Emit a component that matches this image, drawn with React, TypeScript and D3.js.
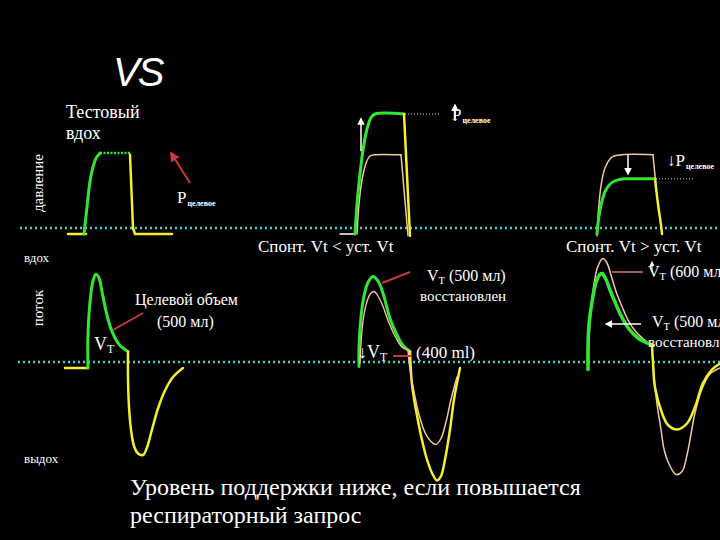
import { useRef, useEffect } from 'react';
import * as d3 from 'd3';

// time in s (panel layout), pressure in cmH2O above PEEP, flow in L/min
type Pt = [number, number];

// --- pressure, panel 1 (test breath)
const p1Base: Pt[] = [[0.68, 0], [0.86, 0]];
const p1Rise: Pt[] = [[0.84, 0], [0.86, 3], [0.88, 6], [0.90, 8.8], [0.93, 11.2], [0.96, 12.6], [1.00, 13.5]];
const p1Plateau: Pt[] = [[1.00, 13.5], [1.30, 13.5]];
const p1Fall: Pt[] = [[1.30, 13.2], [1.33, 1], [1.35, 0], [1.72, 0]];

// --- pressure, panel 2 (spont Vt < set Vt)
const p2Base: Pt[] = [[3.40, 0], [3.55, 0]];
const p2Green: Pt[] = [[3.55, 0], [3.57, 5], [3.60, 10], [3.63, 14], [3.67, 17.5], [3.71, 19.4], [3.75, 20], [4.04, 20]];
const p2Peach: Pt[] = [[3.57, 0], [3.59, 5], [3.62, 9], [3.66, 11.8], [3.70, 13], [3.74, 13.2], [4.01, 13.2]];
const p2PeachFall: Pt[] = [[4.01, 13.2], [4.08, -0.3]];
const p2Fall: Pt[] = [[4.04, 20], [4.10, -0.3]];

// --- pressure, panel 3 (spont Vt > set Vt)
const p3Peach: Pt[] = [[5.97, -0.3], [5.985, 4], [6.01, 8], [6.05, 11], [6.12, 12.8], [6.22, 13.2], [6.53, 13.2]];
const p3PeachFall: Pt[] = [[6.53, 13.2], [6.56, 8]];
const p3Green: Pt[] = [[5.97, 0], [5.99, 3], [6.02, 5.5], [6.06, 7.4], [6.12, 8.6], [6.20, 9.1], [6.28, 9.2], [6.55, 9.2]];
const p3Fall: Pt[] = [[6.55, 9.2], [6.58, 5], [6.61, 1.5], [6.62, 0]];

// --- flow, panel 1
const f1Base: Pt[] = [[0.65, -4], [0.88, -4]];
const f1Insp: Pt[] = [[0.88, -4], [0.88, 18], [0.90, 40], [0.93, 54], [0.96, 58.5], [0.99, 56], [1.02, 47], [1.06, 34], [1.10, 24], [1.15, 16], [1.20, 11], [1.28, 7]];
const f1Exp: Pt[] = [[1.28, 7], [1.28, -10], [1.29, -30], [1.31, -45], [1.34, -56], [1.38, -61], [1.43, -62], [1.47, -57], [1.52, -45], [1.58, -31], [1.65, -19], [1.73, -10], [1.83, -4]];

// --- flow, panel 2
const f2Insp: Pt[] = [[3.59, -3], [3.59, 10], [3.61, 30], [3.64, 44], [3.68, 53], [3.73, 57], [3.78, 54], [3.83, 46], [3.90, 29], [3.97, 18], [4.03, 11], [4.10, 7]];
const f2InspPeach: Pt[] = [[3.60, -1], [3.61, 12], [3.63, 27], [3.66, 38], [3.70, 45], [3.74, 47], [3.78, 44], [3.83, 37], [3.89, 26], [3.96, 16], [4.02, 10], [4.08, 8]];
const f2Exp: Pt[] = [[4.10, 7], [4.12, -15], [4.16, -32], [4.22, -52], [4.27, -65], [4.32, -74], [4.37, -79], [4.41, -76], [4.45, -65], [4.50, -45], [4.54, -25], [4.60, -4]];
const f2ExpPeach: Pt[] = [[4.08, 8], [4.10, -5], [4.14, -20], [4.19, -35], [4.25, -47], [4.31, -53], [4.36, -55], [4.41, -51], [4.46, -40], [4.51, -25], [4.57, -10]];

// --- flow, panel 3
const f3InspPeach: Pt[] = [[5.885, -3], [5.89, 15], [5.91, 35], [5.94, 52], [5.98, 64], [6.03, 69], [6.07, 66], [6.11, 58], [6.16, 47], [6.22, 37], [6.28, 28], [6.36, 20], [6.44, 15], [6.52, 10]];
const f3Insp: Pt[] = [[5.88, -5], [5.88, 10], [5.89, 25], [5.92, 40], [5.96, 53], [6.00, 58.5], [6.02, 59], [6.06, 55], [6.10, 48], [6.15, 40], [6.21, 31], [6.29, 22], [6.38, 16], [6.46, 13], [6.53, 11]];
const f3Exp: Pt[] = [[6.52, 11], [6.53, 0], [6.55, -17], [6.62, -34], [6.68, -42], [6.77, -45], [6.87, -41], [6.95, -30], [7.03, -14], [7.12, -5], [7.20, -1]];
const f3ExpPeach: Pt[] = [[6.52, 9], [6.54, -10], [6.57, -28], [6.61, -45], [6.64, -58], [6.69, -68], [6.76, -75], [6.82, -73], [6.87, -62], [6.91, -48], [6.95, -34], [7.02, -18], [7.10, -8], [7.20, -4]];

const GREEN = '#33e633';
const YELLOW = '#f4f02c';
const PEACH = '#f3c8a0';
const CYAN = '#52cccc';
const RED = '#c83a3a';
const SERIF = "'Liberation Serif', 'DejaVu Serif', serif";

export default function App() {
  const ref = useRef<SVGSVGElement>(null);

  useEffect(() => {
    const svg = d3.select(ref.current);
    svg.selectAll('*').remove();

    const x = d3.scaleLinear().domain([0, 7.2]).range([0, 720]);
    const yP = d3.scaleLinear().domain([0, 20]).range([234, 114]);
    const yF = d3.scaleLinear().domain([-80, 70]).range([482, 257]);

    const defs = svg.append('defs');
    const marker = (id: string, color: string) => {
      defs.append('marker').attr('id', id)
        .attr('viewBox', '0 0 10 10').attr('refX', 8).attr('refY', 5)
        .attr('markerWidth', 5).attr('markerHeight', 5).attr('orient', 'auto')
        .append('path').attr('d', 'M0,0 L10,5 L0,10 z').attr('fill', color);
    };
    marker('aw', '#fff');
    marker('ar', RED);

    svg.append('rect').attr('width', 720).attr('height', 540).attr('fill', '#000');

    // dotted zero lines
    svg.append('line')
      .attr('x1', x(0.2)).attr('x2', x(7.2)).attr('y1', yP(1)).attr('y2', yP(1))
      .attr('stroke', CYAN).attr('stroke-width', 2.5).attr('stroke-dasharray', '2,3');
    svg.append('line')
      .attr('x1', x(0.18)).attr('x2', x(7.2)).attr('y1', yF(0)).attr('y2', yF(0))
      .attr('stroke', CYAN).attr('stroke-width', 2.5).attr('stroke-dasharray', '2,3');

    const curve = d3.curveCatmullRom.alpha(0.5);
    const draw = (data: Pt[], y: d3.ScaleLinear<number, number>, color: string, w: number, smooth = true, dash?: string) => {
      const gen = d3.line<Pt>().x(d => x(d[0])).y(d => y(d[1]))
        .curve(smooth ? curve : d3.curveLinear);
      const p = svg.append('path').attr('d', gen(data))
        .attr('fill', 'none').attr('stroke', color).attr('stroke-width', w)
        .attr('stroke-linejoin', 'round').attr('stroke-linecap', 'round');
      if (dash) p.attr('stroke-dasharray', dash).attr('stroke-linecap', 'butt');
    };

    // pressure panel 1
    draw(p1Base, yP, YELLOW, 2.5, false);
    draw(p1Rise, yP, GREEN, 3);
    draw(p1Plateau, yP, GREEN, 2.5, false, '2,1.5');
    draw(p1Fall, yP, YELLOW, 2.5, false);

    // pressure panel 2
    draw(p2Base, yP, '#fff', 1.5, false);
    draw(p2Peach, yP, PEACH, 1.5);
    draw(p2PeachFall, yP, PEACH, 1.5, false);
    draw(p2Green, yP, GREEN, 3);
    draw(p2Fall, yP, YELLOW, 2.5, false);
    svg.append('line')
      .attr('x1', x(4.05)).attr('x2', x(4.40)).attr('y1', yP(20)).attr('y2', yP(20))
      .attr('stroke', '#ddd').attr('stroke-width', 1).attr('stroke-dasharray', '1,2');
    svg.append('line')
      .attr('x1', x(3.61)).attr('x2', x(3.61)).attr('y1', yP(13.8)).attr('y2', yP(19.2))
      .attr('stroke', '#fff').attr('stroke-width', 1.5).attr('marker-end', 'url(#aw)');

    // pressure panel 3
    draw(p3Peach, yP, PEACH, 1.5);
    draw(p3PeachFall, yP, PEACH, 1.5, false);
    draw(p3Green, yP, GREEN, 3);
    draw(p3Fall, yP, YELLOW, 2.5);
    svg.append('line')
      .attr('x1', x(6.56)).attr('x2', x(6.95)).attr('y1', yP(9.2)).attr('y2', yP(9.2))
      .attr('stroke', '#ddd').attr('stroke-width', 1).attr('stroke-dasharray', '1,2');
    svg.append('line')
      .attr('x1', x(6.28)).attr('x2', x(6.28)).attr('y1', yP(13.2)).attr('y2', yP(10))
      .attr('stroke', '#fff').attr('stroke-width', 1.5).attr('marker-end', 'url(#aw)');

    // flow panel 1
    draw(f1Base, yF, YELLOW, 2.5, false);
    draw(f1Insp, yF, GREEN, 3);
    draw(f1Exp, yF, YELLOW, 2.5);

    // flow panel 2
    draw(f2Insp, yF, GREEN, 3);
    draw(f2InspPeach, yF, PEACH, 1.3);
    draw(f2Exp, yF, YELLOW, 2.5);
    draw(f2ExpPeach, yF, PEACH, 1.5);

    // flow panel 3
    draw(f3InspPeach, yF, PEACH, 1.5);
    draw(f3Insp, yF, GREEN, 3.5);
    draw(f3ExpPeach, yF, PEACH, 1.5);
    draw(f3Exp, yF, YELLOW, 2.5);

    // ---- text
    const txt = (px: number, py: number, s: string, size: number, fam = SERIF) =>
      svg.append('text').attr('x', px).attr('y', py).attr('fill', '#fff')
        .attr('font-family', fam).attr('font-size', size).text(s);

    const vt = (px: number, py: number, size: number, prefix = '', suffix = '') => {
      const t = svg.append('text').attr('x', px).attr('y', py).attr('fill', '#fff')
        .attr('font-family', SERIF).attr('font-size', size);
      t.append('tspan').text(prefix + 'V');
      t.append('tspan').attr('font-size', size * 0.65).attr('dy', 3).text('T');
      if (suffix) t.append('tspan').attr('dy', -3).text(suffix);
      return t;
    };
    const pSub = (px: number, py: number, prefix = '') => {
      const t = svg.append('text').attr('x', px).attr('y', py).attr('fill', '#fff')
        .attr('font-family', SERIF).attr('font-size', 17);
      t.append('tspan').text(prefix + 'P');
      t.append('tspan').attr('font-size', 8).attr('font-weight', 'bold').attr('dy', 3).attr('dx', 1).text('целевое');
    };

    svg.append('text').attr('x', 113).attr('y', 86).attr('fill', '#fff')
      .attr('font-family', "'Liberation Sans', Arial, sans-serif").attr('font-style', 'italic')
      .attr('font-size', 40).attr('letter-spacing', -2).text('VS');

    txt(66, 118, 'Тестовый', 18);
    txt(66, 139, 'вдох', 18);

    svg.append('text').attr('transform', 'translate(43,183) rotate(-90)')
      .attr('text-anchor', 'middle').attr('fill', '#fff')
      .attr('font-family', SERIF).attr('font-size', 15).text('давление');
    svg.append('text').attr('transform', 'translate(43,308) rotate(-90)')
      .attr('text-anchor', 'middle').attr('fill', '#fff')
      .attr('font-family', SERIF).attr('font-size', 15).text('поток');
    txt(24, 262, 'вдох', 13);
    txt(24, 463, 'выдох', 13);

    // panel 1 pressure annotation
    svg.append('line').attr('x1', 190).attr('y1', 183).attr('x2', 171).attr('y2', 153)
      .attr('stroke', RED).attr('stroke-width', 2).attr('marker-end', 'url(#ar)');
    pSub(177, 203);

    // panel 2 pressure label
    pSub(452, 120);
    svg.append('line').attr('x1', 455).attr('x2', 455).attr('y1', 121).attr('y2', 105)
      .attr('stroke', '#fff').attr('stroke-width', 1.5).attr('marker-end', 'url(#aw)');

    // panel 3 pressure label
    pSub(667, 166, '↓');

    txt(258, 252, 'Спонт. Vt < уст. Vt', 17);
    txt(566, 252, 'Спонт. Vt > уст. Vt', 17);

    // flow panel 1 annotation
    svg.append('line').attr('x1', 113).attr('y1', 330).attr('x2', 143).attr('y2', 313)
      .attr('stroke', RED).attr('stroke-width', 2);
    txt(135, 305, 'Целевой объем', 16);
    txt(157, 327, '(500 мл)', 16);
    vt(94, 350, 18);

    // flow panel 2 annotation
    svg.append('line').attr('x1', 382).attr('y1', 283).attr('x2', 410).attr('y2', 272)
      .attr('stroke', RED).attr('stroke-width', 2);
    vt(427, 281, 16, '', '  (500 мл)');
    txt(420, 301, 'восстановлен', 15);
    vt(358, 358, 18, '↓');
    svg.append('line').attr('x1', 393).attr('y1', 356).attr('x2', 411).attr('y2', 356)
      .attr('stroke', RED).attr('stroke-width', 2);
    txt(416, 358, '(400 ml)', 17);

    // flow panel 3 annotation
    svg.append('line').attr('x1', 612).attr('y1', 272).attr('x2', 643).attr('y2', 272)
      .attr('stroke', '#e07070').attr('stroke-width', 1.5);
    vt(648, 277, 16, '', ' (600 мл)');
    svg.append('line').attr('x1', 652).attr('x2', 652).attr('y1', 272).attr('y2', 262)
      .attr('stroke', '#fff').attr('stroke-width', 1).attr('marker-end', 'url(#aw)');
    svg.append('line').attr('x1', 641).attr('y1', 324).attr('x2', 606).attr('y2', 324)
      .attr('stroke', '#fff').attr('stroke-width', 1.5).attr('marker-end', 'url(#aw)');
    vt(652, 327, 16, '', '  (500 мл)');
    txt(648, 347, 'восстановлен', 15);

    // bottom caption
    txt(130, 495, 'Уровень поддержки ниже, если повышается', 24);
    txt(130, 523, 'респираторный запрос', 24);
  }, []);

  return (
    <svg ref={ref} width={720} height={540}
      style={{ position: 'absolute', left: 0, top: 0, background: '#000' }} />
  );
}
